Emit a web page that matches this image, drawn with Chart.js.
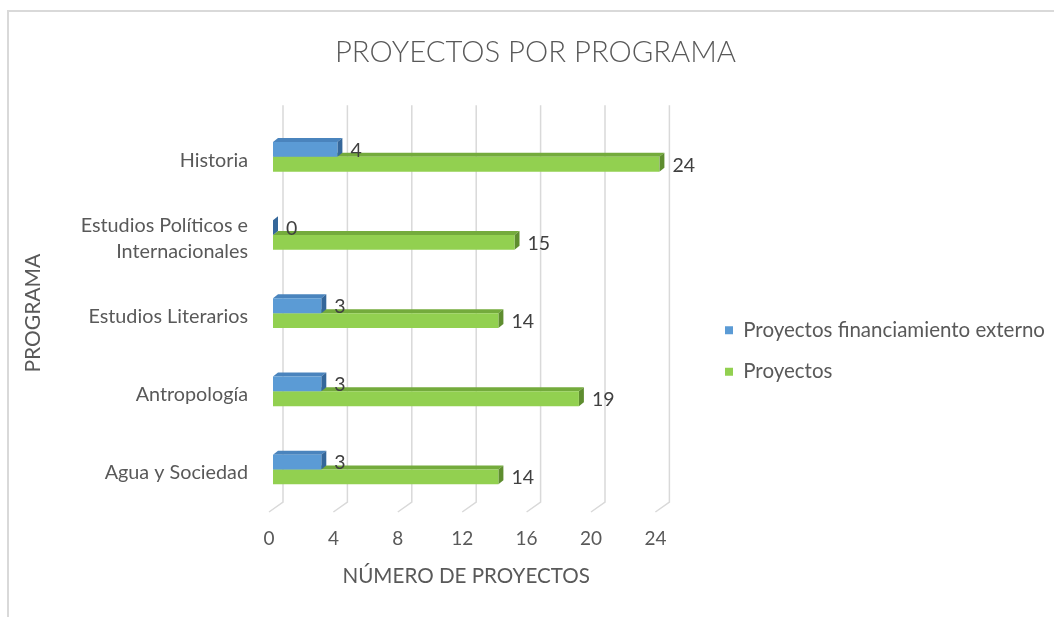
<!DOCTYPE html>
<html>
<head>
<meta charset="utf-8">
<script src="https://cdn.jsdelivr.net/npm/chart.js@4/dist/chart.umd.min.js"></script>
<style>
html,body{margin:0;padding:0;background:#fff;}
#wrap{position:relative;width:1054px;height:617px;overflow:hidden;}
#frame{position:absolute;left:7px;top:10px;width:1060px;height:620px;border-left:2px solid #d9d9d9;border-top:2px solid #d9d9d9;}
canvas{position:absolute;left:0;top:0;}
</style>
</head>
<body>
<div id="wrap"><div id="frame"></div><canvas id="c" width="1054" height="617"></canvas></div>
<script>
// ---- data ----
const categories = ['Historia', ['Estudios Políticos e', 'Internacionales'], 'Estudios Literarios', 'Antropología', 'Agua y Sociedad'];
const seriesNames = ['Proyectos financiamiento externo', 'Proyectos'];
const externalProjects = [4, 0, 3, 3, 3];
const projects = [24, 15, 14, 19, 14];
const xTickValues = [0, 4, 8, 12, 16, 20, 24];
const chartTitle = 'PROYECTOS POR PROGRAMA';
const xTitle = 'NÚMERO DE PROYECTOS';
const yTitle = 'PROGRAMA';

// ---- styles ----
const FONT = 'Lato, "Open Sans", sans-serif';
const TEXT = '#595959';
const faceColors = [
  {front: '#5B9BD5', top: '#4a84bd', side: '#35679a'},
  {front: '#92D050', top: '#74ab3c', side: '#5e8d2f'}
];
const DEPTH_X = 5, DEPTH_Y = 4;

const gridPlugin = {
  id: 'grid3d',
  beforeDatasetsDraw(chart) {
    const {ctx, chartArea} = chart;
    const xs = chart.scales.x;
    ctx.save();
    ctx.strokeStyle = '#d9d9d9';
    ctx.lineWidth = 1.5;
    xTickValues.forEach(v => {
      const px = xs.getPixelForValue(v);
      ctx.beginPath();
      ctx.moveTo(px + 10, chartArea.top - 12.4);
      ctx.lineTo(px + 10, chartArea.bottom - 6.6);
      ctx.lineTo(px - 4, chartArea.bottom + 3.4);
      ctx.stroke();
    });
    // 3D faces (green first, then blue so blue side sits on top)
    [1, 0].forEach(di => {
      const meta = chart.getDatasetMeta(di);
      const c = faceColors[di];
      meta.data.forEach(el => {
        const p = el.getProps(['x', 'y', 'base', 'height'], true);
        const top = p.y - p.height / 2, bottom = p.y + p.height / 2;
        ctx.fillStyle = c.top;
        ctx.beginPath();
        ctx.moveTo(p.base, top);
        ctx.lineTo(p.x, top);
        ctx.lineTo(p.x + DEPTH_X, top - DEPTH_Y);
        ctx.lineTo(p.base + DEPTH_X, top - DEPTH_Y);
        ctx.closePath();
        ctx.fill();
        ctx.fillStyle = c.side;
        ctx.beginPath();
        ctx.moveTo(p.x, top);
        ctx.lineTo(p.x + DEPTH_X, top - DEPTH_Y);
        ctx.lineTo(p.x + DEPTH_X, bottom - DEPTH_Y);
        ctx.lineTo(p.x, bottom);
        ctx.closePath();
        ctx.fill();
      });
    });
    ctx.restore();
  },
  afterDatasetsDraw(chart) {
    const {ctx} = chart;
    ctx.save();
    ctx.font = '19.5px ' + FONT;
    ctx.fillStyle = '#404040';
    ctx.textAlign = 'left';
    ctx.textBaseline = 'middle';
    chart.data.datasets.forEach((ds, di) => {
      chart.getDatasetMeta(di).data.forEach((el, i) => {
        const p = el.getProps(['x', 'y'], true);
        ctx.fillText(String(ds.data[i]), p.x + 13, p.y + 1);
      });
    });
    ctx.restore();
  }
};

const LEGEND_W = 394.6;
const LEGEND_BOX_X = 725;
const LEGEND_FIRST_CY = 330;
const legendPlace = {
  id: 'legendPlace',
  beforeLayout(chart) {
    const lg = chart.legend;
    if (lg && !lg._wrapped) {
      const f = lg.fit.bind(lg);
      lg.fit = function () { f(); this.width = LEGEND_W; };
      lg._wrapped = true;
    }
  },
  afterLayout(chart) {
    const lg = chart.legend;
    const pad = lg.options.labels.padding;
    const dx = LEGEND_BOX_X - (lg.left + pad);
    lg.left += dx; lg.right += dx;
    const colH = lg.columnSizes && lg.columnSizes[0] ? lg.columnSizes[0].height : 80;
    const T = LEGEND_FIRST_CY - 10;
    lg.top = T - pad;
    lg.bottom = T + colH;
  }
};

new Chart(document.getElementById('c'), {
  type: 'bar',
  data: {
    labels: categories,
    datasets: [
      {label: seriesNames[0], data: externalProjects, backgroundColor: faceColors[0].front},
      {label: seriesNames[1], data: projects, backgroundColor: faceColors[1].front}
    ]
  },
  options: {
    indexAxis: 'y',
    responsive: false,
    animation: false,
    devicePixelRatio: 1,
    categoryPercentage: 0.38,
    barPercentage: 1.0,
    layout: {padding: {left: 17, right: 0, top: 0, bottom: 0}},
    scales: {
      x: {
        min: 0, max: 24,
        afterBuildTicks(scale) { scale.ticks = xTickValues.map(v => ({value: v})); },
        afterFit(scale) { scale.height = 108.4; },
        grid: {display: false, drawTicks: false},
        border: {display: false},
        ticks: {color: TEXT, font: {family: FONT, size: 19}, padding: 19, labelOffset: -4, maxRotation: 0},
        title: {display: true, text: xTitle, color: TEXT, font: {family: FONT, size: 20.6}, padding: {top: 28, bottom: 28}}
      },
      y: {
        afterFit(scale) { scale.width = 256; },
        grid: {display: false, drawTicks: false},
        border: {display: false},
        ticks: {color: TEXT, font: {family: FONT, size: 19.8, lineHeight: 1.3}, padding: 25, labelOffset: 3.5},
        title: {display: true, text: yTitle, color: TEXT, font: {family: FONT, size: 21}, padding: {top: 4, bottom: 4}}
      }
    },
    plugins: {
      title: {
        display: true, text: chartTitle, color: TEXT,
        font: {family: FONT, size: 29.3, weight: 300},
        padding: {top: 35, bottom: 47.6}
      },
      legend: {
        position: 'right',
        labels: {color: TEXT, font: {family: FONT, size: 20.5}, boxWidth: 8, boxHeight: 8, padding: 21}
      },
      tooltip: {enabled: false}
    }
  },
  plugins: [gridPlugin, legendPlace]
});
</script>
</body>
</html>
